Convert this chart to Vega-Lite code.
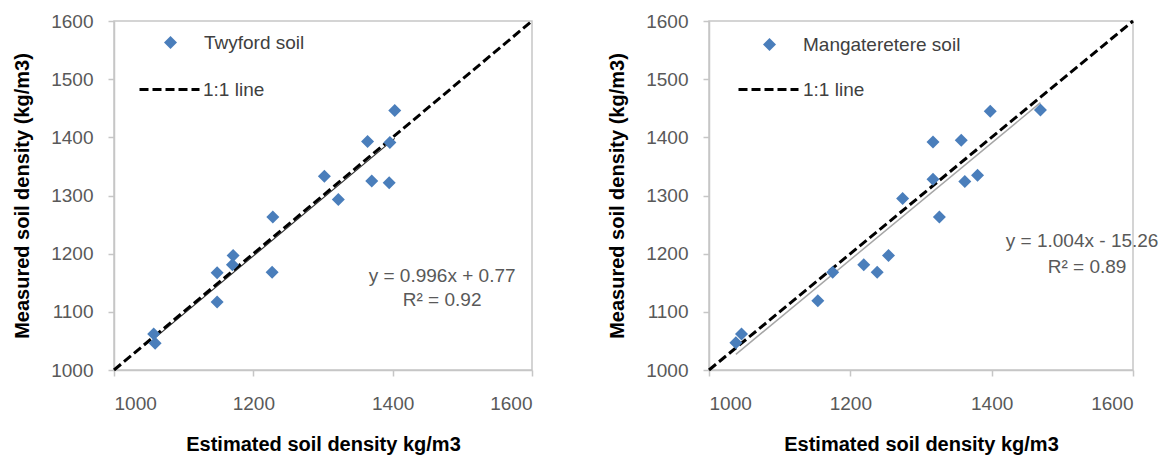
{
  "$schema": "https://vega.github.io/schema/vega-lite/v6.json",
  "background": "white",
  "padding": {"left": 11, "top": 11, "right": 5, "bottom": 0},
  "spacing": 67,
  "resolve": {
    "scale": {"shape": "independent", "strokeDash": "independent"},
    "legend": {"shape": "independent", "strokeDash": "independent"}
  },
  "config": {
    "font": "Liberation Sans",
    "view": {"stroke": "#c6c6c6", "strokeWidth": 1.5},
    "axis": {
      "grid": false,
      "format": "d",
      "domainColor": "#c6c6c6",
      "domainWidth": 1.5,
      "tickColor": "#c6c6c6",
      "tickWidth": 1.5,
      "tickSize": 6,
      "labelFont": "Liberation Sans",
      "labelFontSize": 19,
      "labelColor": "#595959",
      "titleFont": "Liberation Sans",
      "titleFontSize": 20,
      "titleFontWeight": "bold",
      "titleColor": "#000000"
    },
    "axisX": {"labelPadding": 18, "titlePadding": 21},
    "axisY": {"labelPadding": 15, "titlePadding": 18},
    "legend": {
      "labelFont": "Liberation Sans",
      "labelFontSize": 19,
      "labelColor": "#404040",
      "padding": 0,
      "title": null
    }
  },
  "datasets": {
    "twyford": [
      {"x": 1057, "y": 1062, "series": "Twyford soil"},
      {"x": 1059, "y": 1046, "series": "Twyford soil"},
      {"x": 1148, "y": 1117, "series": "Twyford soil"},
      {"x": 1148, "y": 1167, "series": "Twyford soil"},
      {"x": 1171, "y": 1197, "series": "Twyford soil"},
      {"x": 1170, "y": 1181, "series": "Twyford soil"},
      {"x": 1228, "y": 1263, "series": "Twyford soil"},
      {"x": 1227, "y": 1168, "series": "Twyford soil"},
      {"x": 1302, "y": 1333, "series": "Twyford soil"},
      {"x": 1322, "y": 1293, "series": "Twyford soil"},
      {"x": 1364, "y": 1393, "series": "Twyford soil"},
      {"x": 1370, "y": 1325, "series": "Twyford soil"},
      {"x": 1395, "y": 1322, "series": "Twyford soil"},
      {"x": 1396, "y": 1391, "series": "Twyford soil"},
      {"x": 1403, "y": 1446, "series": "Twyford soil"}
    ],
    "mangateretere": [
      {"x": 1038, "y": 1047, "series": "Mangateretere soil"},
      {"x": 1046, "y": 1062, "series": "Mangateretere soil"},
      {"x": 1154, "y": 1119, "series": "Mangateretere soil"},
      {"x": 1175, "y": 1168, "series": "Mangateretere soil"},
      {"x": 1219, "y": 1181, "series": "Mangateretere soil"},
      {"x": 1238, "y": 1168, "series": "Mangateretere soil"},
      {"x": 1254, "y": 1197, "series": "Mangateretere soil"},
      {"x": 1274, "y": 1295, "series": "Mangateretere soil"},
      {"x": 1317, "y": 1392, "series": "Mangateretere soil"},
      {"x": 1317, "y": 1328, "series": "Mangateretere soil"},
      {"x": 1326, "y": 1263, "series": "Mangateretere soil"},
      {"x": 1357, "y": 1395, "series": "Mangateretere soil"},
      {"x": 1362, "y": 1324, "series": "Mangateretere soil"},
      {"x": 1380, "y": 1335, "series": "Mangateretere soil"},
      {"x": 1398, "y": 1445, "series": "Mangateretere soil"},
      {"x": 1469, "y": 1447, "series": "Mangateretere soil"}
    ],
    "oneToOne": [
      {"x": 1000, "y": 1000, "series": "1:1 line"},
      {"x": 1600, "y": 1600, "series": "1:1 line"}
    ],
    "trendLeft": [
      {"x": 1057, "y": 1053.5},
      {"x": 1403, "y": 1398.2}
    ],
    "trendRight": [
      {"x": 1038, "y": 1026.9},
      {"x": 1469, "y": 1459.6}
    ],
    "eqLeft1": [{"label": "y = 0.996x + 0.77"}],
    "eqLeft2": [{"label": "R² = 0.92"}],
    "eqRight1": [{"label": "y = 1.004x - 15.26"}],
    "eqRight2": [{"label": "R² = 0.89"}]
  },
  "hconcat": [
    {
      "width": 418,
      "height": 349,
      "layer": [
        {
          "data": {"name": "trendLeft"},
          "mark": {"type": "line", "color": "#333333", "strokeWidth": 1.2},
          "encoding": {
            "x": {"field": "x", "type": "quantitative", "scale": {"domain": [1000, 1600], "nice": false, "zero": false},
                  "axis": {"values": [1000, 1200, 1400, 1600], "title": "Estimated soil density kg/m3"}},
            "y": {"field": "y", "type": "quantitative", "scale": {"domain": [1000, 1600], "nice": false, "zero": false},
                  "axis": {"values": [1000, 1100, 1200, 1300, 1400, 1500, 1600], "title": "Measured soil density (kg/m3)"}}
          }
        },
        {
          "data": {"name": "oneToOne"},
          "mark": {"type": "line", "color": "#000000", "strokeWidth": 3},
          "encoding": {
            "x": {"field": "x", "type": "quantitative"},
            "y": {"field": "y", "type": "quantitative"},
            "strokeDash": {
              "field": "series", "type": "nominal",
              "scale": {"range": [[9, 4]]},
              "legend": {"orient": "none", "legendX": 24, "legendY": 37, "symbolSize": 3600, "symbolStrokeWidth": 3, "labelOffset": 2}
            }
          }
        },
        {
          "data": {"name": "twyford"},
          "mark": {"type": "point", "filled": true, "color": "#4a7ebb", "opacity": 1, "size": 169},
          "encoding": {
            "x": {"field": "x", "type": "quantitative"},
            "y": {"field": "y", "type": "quantitative"},
            "shape": {
              "field": "series", "type": "nominal",
              "scale": {"range": ["diamond"]},
              "legend": {"orient": "none", "legendX": 47, "legendY": 12, "symbolSize": 169, "symbolFillColor": "#4a7ebb", "symbolStrokeWidth": 0, "labelOffset": 24}
            }
          }
        },
        {
          "data": {"name": "eqLeft1"},
          "mark": {"type": "text", "font": "Liberation Sans", "fontSize": 19, "color": "#595959", "align": "center", "baseline": "middle"},
          "encoding": {
            "x": {"datum": 1471, "type": "quantitative"},
            "y": {"datum": 1161, "type": "quantitative"},
            "text": {"field": "label", "type": "nominal"}
          }
        },
        {
          "data": {"name": "eqLeft2"},
          "mark": {"type": "text", "font": "Liberation Sans", "fontSize": 19, "color": "#595959", "align": "center", "baseline": "middle"},
          "encoding": {
            "x": {"datum": 1471, "type": "quantitative"},
            "y": {"datum": 1120, "type": "quantitative"},
            "text": {"field": "label", "type": "nominal"}
          }
        }
      ]
    },
    {
      "width": 424,
      "height": 349,
      "layer": [
        {
          "data": {"name": "trendRight"},
          "mark": {"type": "line", "color": "#a6a6a6", "strokeWidth": 1.5},
          "encoding": {
            "x": {"field": "x", "type": "quantitative", "scale": {"domain": [1000, 1600], "nice": false, "zero": false},
                  "axis": {"values": [1000, 1200, 1400, 1600], "title": "Estimated soil density kg/m3"}},
            "y": {"field": "y", "type": "quantitative", "scale": {"domain": [1000, 1600], "nice": false, "zero": false},
                  "axis": {"values": [1000, 1100, 1200, 1300, 1400, 1500, 1600], "title": "Measured soil density (kg/m3)"}}
          }
        },
        {
          "data": {"name": "oneToOne"},
          "mark": {"type": "line", "color": "#000000", "strokeWidth": 3},
          "encoding": {
            "x": {"field": "x", "type": "quantitative"},
            "y": {"field": "y", "type": "quantitative"},
            "strokeDash": {
              "field": "series", "type": "nominal",
              "scale": {"range": [[9, 4]]},
              "legend": {"orient": "none", "legendX": 28, "legendY": 37, "symbolSize": 3600, "symbolStrokeWidth": 3, "labelOffset": 3}
            }
          }
        },
        {
          "data": {"name": "mangateretere"},
          "mark": {"type": "point", "filled": true, "color": "#4a7ebb", "opacity": 1, "size": 169},
          "encoding": {
            "x": {"field": "x", "type": "quantitative"},
            "y": {"field": "y", "type": "quantitative"},
            "shape": {
              "field": "series", "type": "nominal",
              "scale": {"range": ["diamond"]},
              "legend": {"orient": "none", "legendX": 51, "legendY": 14, "symbolSize": 169, "symbolFillColor": "#4a7ebb", "symbolStrokeWidth": 0, "labelOffset": 24}
            }
          }
        },
        {
          "data": {"name": "eqRight1"},
          "mark": {"type": "text", "font": "Liberation Sans", "fontSize": 19, "color": "#595959", "align": "center", "baseline": "middle"},
          "encoding": {
            "x": {"datum": 1528, "type": "quantitative"},
            "y": {"datum": 1222, "type": "quantitative"},
            "text": {"field": "label", "type": "nominal"}
          }
        },
        {
          "data": {"name": "eqRight2"},
          "mark": {"type": "text", "font": "Liberation Sans", "fontSize": 19, "color": "#595959", "align": "center", "baseline": "middle"},
          "encoding": {
            "x": {"datum": 1535, "type": "quantitative"},
            "y": {"datum": 1177, "type": "quantitative"},
            "text": {"field": "label", "type": "nominal"}
          }
        }
      ]
    }
  ]
}
